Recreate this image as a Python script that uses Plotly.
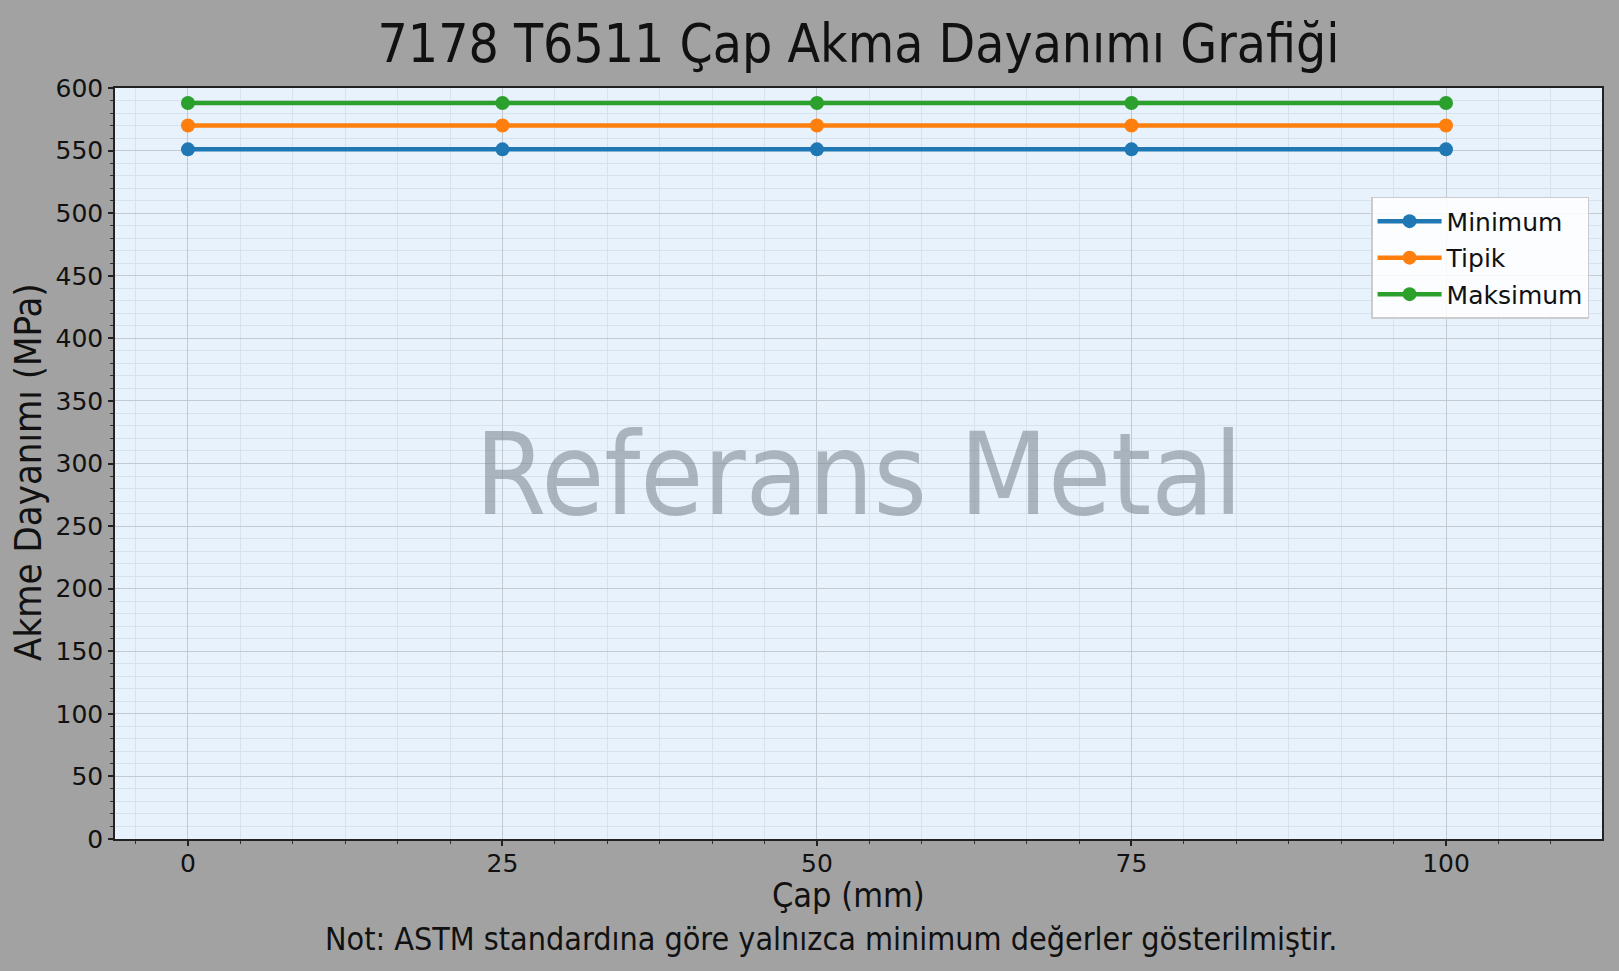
import plotly.graph_objects as go

diameters = [0, 25, 50, 75, 100]
minimum = [551, 551, 551, 551, 551]
typical = [570, 570, 570, 570, 570]
maximum = [588, 588, 588, 588, 588]
series_names = ["Minimum", "Tipik", "Maksimum"]
series_colors = ["#1f77b4", "#ff7f0e", "#2ca02c"]
y_ticks = list(range(0, 601, 50))
x_ticks = [0, 25, 50, 75, 100]

COND = "DejaVu Sans Condensed, DejaVu Sans, sans-serif"
REG = "DejaVu Sans, sans-serif"

fig = go.Figure()
for name, vals, col in zip(series_names, [minimum, typical, maximum], series_colors):
    fig.add_trace(go.Scatter(
        x=diameters, y=vals, name=name, mode="lines+markers",
        legendgroup=name,
        line=dict(color=col, width=4.5),
        marker=dict(color=col, size=14),
    ))

grid_major = "#c3c9cf"
grid_minor = "#d8e2ec"

fig.update_layout(
    width=1619, height=971,
    paper_bgcolor="#a2a2a2",
    plot_bgcolor="#e7f2fd",
    margin=dict(l=115, r=17, t=88, b=132),
    font=dict(family=REG, color="#111111", size=24),
    title=dict(text="7178 T6511 Çap Akma Dayanımı Grafiği",
               font=dict(size=53, family=COND, color="#111111"),
               x=0.5, xref="paper", xanchor="center",
               y=1 - 43 / 971, yref="container", yanchor="middle"),
    showlegend=True,
    legend=dict(x=0.9913, y=0.855, xanchor="right", yanchor="top",
                bgcolor="rgba(255,255,255,0.85)", bordercolor="#cccccc", borderwidth=1.5,
                font=dict(size=25, family=REG, color="#111111"),
                itemwidth=64, tracegroupgap=1),
    xaxis=dict(
        range=[-5.8, 112.4], tickmode="array", tickvals=x_ticks,
        ticktext=[str(v) for v in x_ticks],
        ticks="outside", ticklen=5, tickwidth=1.5, tickcolor="#222222",
        ticklabelstandoff=-4,
        showline=True, linecolor="#222222", linewidth=1.5, mirror=True,
        showgrid=True, gridcolor=grid_major, gridwidth=1,
        zeroline=False,
        tickfont=dict(size=25, family=REG, color="#111111"),
        minor=dict(dtick=25 / 6, tick0=0, ticks="outside", ticklen=3, tickwidth=1,
                   tickcolor="#333333", showgrid=True, gridcolor=grid_minor, gridwidth=0.8),
    ),
    yaxis=dict(
        range=[0, 600], tickmode="array", tickvals=y_ticks,
        ticktext=[str(v) for v in y_ticks],
        ticks="outside", ticklen=5, tickwidth=1.5, tickcolor="#222222",
        showline=True, linecolor="#222222", linewidth=1.5, mirror=True,
        showgrid=True, gridcolor=grid_major, gridwidth=1,
        zeroline=False,
        tickfont=dict(size=25, family=REG, color="#111111"),
        minor=dict(dtick=10, tick0=0, ticks="outside", ticklen=3, tickwidth=1,
                   tickcolor="#333333", showgrid=True, gridcolor=grid_minor, gridwidth=0.8),
    ),
    annotations=[
        dict(text="Referans Metal", x=0.5, y=(839 - 475) / 751, xref="paper", yref="paper",
             xanchor="center", yanchor="middle", showarrow=False,
             font=dict(size=114, family=COND, color="rgba(120,130,140,0.55)")),
        dict(text="Çap (mm)", x=(848 - 115) / 1487, y=(839 - 895) / 751,
             xref="paper", yref="paper", xanchor="center", yanchor="middle",
             showarrow=False, font=dict(size=34, family=COND, color="#111111")),
        dict(text="Akme Dayanımı (MPa)", x=(28 - 115) / 1487, y=(839 - 472) / 751, textangle=-90,
             xref="paper", yref="paper", xanchor="center", yanchor="middle",
             showarrow=False, font=dict(size=38, family=COND, color="#111111")),
        dict(text="Not: ASTM standardına göre yalnızca minimum değerler gösterilmiştir.",
             x=(831 - 115) / 1487, y=(839 - 939) / 751, xref="paper", yref="paper",
             xanchor="center", yanchor="middle", showarrow=False,
             font=dict(size=32, family=COND, color="#111111")),
    ],
)

fig.write_html("out.html", config={"displayModeBar": False},
               post_script="document.body.style.margin='0px';")
